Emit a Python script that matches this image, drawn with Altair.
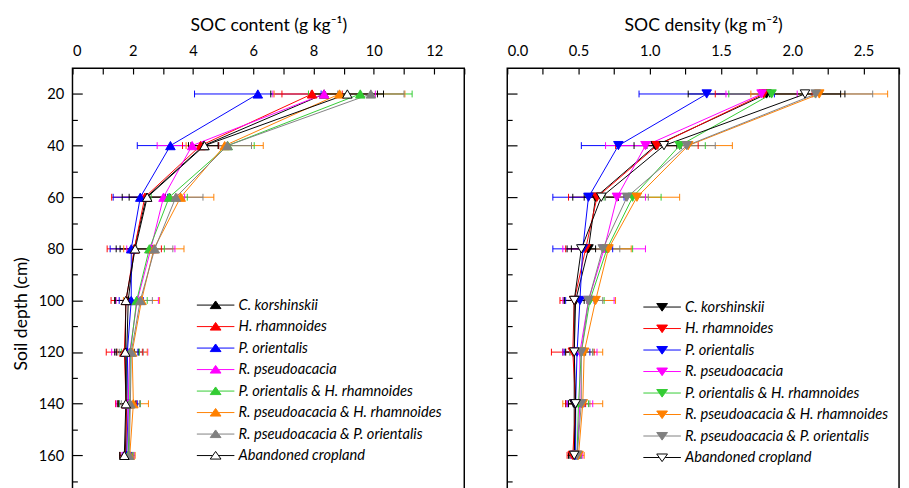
import altair as alt
import pandas as pd

# ---------------- data ----------------
depths = [20, 40, 60, 80, 100, 120, 140, 160]

series = [
    "C. korshinskii",
    "H. rhamnoides",
    "P. orientalis",
    "R. pseudoacacia",
    "P. orientalis & H. rhamnoides",
    "R. pseudoacacia & H. rhamnoides",
    "R. pseudoacacia & P. orientalis",
    "Abandoned cropland",
]
line_colors = ["#000000", "#FF0000", "#0000FF", "#FF00FF", "#33CC33", "#FF8000", "#808080", "#000000"]
fill_colors = ["#000000", "#FF0000", "#0000FF", "#FF00FF", "#33CC33", "#FF8000", "#808080", "#FFFFFF"]

# SOC content (g kg-1): mean and SD per series, by depth
content_mean = [
    [8.35, 4.35, 2.45, 2.05, 1.85, 1.80, 1.80, 1.75],
    [7.95, 4.25, 2.40, 2.05, 1.78, 1.72, 1.78, 1.78],
    [6.15, 3.25, 2.25, 1.95, 1.95, 1.82, 1.85, 1.80],
    [8.35, 3.97, 3.02, 2.60, 2.15, 1.90, 1.85, 1.85],
    [9.55, 5.15, 3.21, 2.55, 2.13, 1.92, 1.90, 1.85],
    [8.86, 5.05, 3.59, 2.70, 2.29, 1.98, 2.02, 1.90],
    [9.90, 5.14, 3.43, 2.73, 2.25, 1.95, 1.92, 1.88],
    [9.12, 4.38, 2.48, 2.08, 1.77, 1.75, 1.77, 1.72],
]
content_sd = [
    [1.77, 0.50, 0.80, 0.60, 0.45, 0.40, 0.30, 0.18],
    [1.00, 0.60, 1.10, 0.90, 0.50, 0.60, 0.35, 0.20],
    [2.10, 1.10, 0.90, 0.70, 0.40, 0.35, 0.30, 0.15],
    [1.70, 1.16, 0.70, 0.80, 0.70, 0.60, 0.40, 0.20],
    [1.72, 0.88, 0.60, 0.50, 0.35, 0.30, 0.35, 0.15],
    [2.17, 1.28, 1.10, 1.00, 0.60, 0.50, 0.50, 0.18],
    [1.10, 0.80, 0.90, 0.60, 0.40, 0.40, 0.30, 0.15],
    [1.20, 0.45, 0.60, 0.50, 0.35, 0.30, 0.25, 0.15],
]

# SOC density (kg m-2): mean and SD per series, by depth
density_mean = [
    [1.82, 1.04, 0.62, 0.57, 0.48, 0.47, 0.47, 0.47],
    [1.80, 1.05, 0.63, 0.55, 0.47, 0.46, 0.48, 0.46],
    [1.40, 0.78, 0.57, 0.53, 0.51, 0.49, 0.48, 0.48],
    [1.785, 0.97, 0.77, 0.68, 0.57, 0.51, 0.51, 0.49],
    [1.855, 1.21, 0.88, 0.70, 0.58, 0.52, 0.50, 0.49],
    [2.19, 1.27, 0.91, 0.71, 0.62, 0.54, 0.53, 0.50],
    [2.165, 1.26, 0.84, 0.67, 0.57, 0.52, 0.52, 0.49],
    [2.09, 1.10, 0.66, 0.52, 0.47, 0.47, 0.48, 0.47],
]
density_sd = [
    [0.55, 0.15, 0.16, 0.12, 0.08, 0.08, 0.06, 0.04],
    [0.34, 0.29, 0.20, 0.14, 0.10, 0.15, 0.07, 0.04],
    [0.475, 0.26, 0.25, 0.21, 0.10, 0.09, 0.06, 0.03],
    [0.25, 0.28, 0.20, 0.29, 0.18, 0.12, 0.09, 0.04],
    [0.30, 0.18, 0.20, 0.18, 0.10, 0.08, 0.07, 0.03],
    [0.48, 0.31, 0.30, 0.16, 0.14, 0.13, 0.14, 0.04],
    [0.40, 0.20, 0.15, 0.12, 0.10, 0.08, 0.06, 0.03],
    [0.25, 0.12, 0.12, 0.10, 0.07, 0.06, 0.05, 0.03],
]

content_ticks = list(range(0, 14))
content_labels = [0, 2, 4, 6, 8, 10, 12]
density_ticks = [i * 0.25 for i in range(0, 12)]
density_labels = [0.0, 0.5, 1.0, 1.5, 2.0, 2.5]
y_tick_vals = list(range(20, 201, 10))
y_label_vals = list(range(20, 161, 20))


def make_df(means, sds):
    rows = []
    for s, ms, es in zip(series, means, sds):
        for d, m, e in zip(depths, ms, es):
            rows.append({"series": s, "depth": d, "mean": m, "lo": m - e, "hi": m + e})
    return pd.DataFrame(rows)


W, H = 401, 502
FONT = "Lato"

LEG_UP = "M-3.2,0H-0.54M0.54,0H3.2M0,-0.7L0.92,0.6L-0.92,0.6Z"
LEG_DOWN = "M-3.2,0H-0.54M0.54,0H3.2M0,0.7L0.92,-0.6L-0.92,-0.6Z"
CAP = "M0,-1V1"


def panel(df, title, xmax, tick_vals, label_vals, fmt, tri, leg_path, lx, ly, show_y):
    x_scale = alt.Scale(domain=[0, xmax], nice=False, zero=False)
    y_scale = alt.Scale(domain=[10, 200], reverse=True, nice=False, zero=False)
    stroke_scale = alt.Scale(domain=series, range=line_colors)
    fill_scale = alt.Scale(domain=series, range=fill_colors)
    leg = alt.Legend(
        title=None, orient="none", legendX=lx, legendY=ly, direction="vertical",
        symbolType=leg_path, symbolSize=144, symbolStrokeWidth=1,
        labelFont=FONT, labelFontStyle="italic", labelFontSize=15, labelColor="black",
        labelOffset=16, rowPadding=6, padding=0, labelLimit=400,
    )
    x_lab = alt.Axis(orient="top", values=label_vals, format=fmt, title=title, ticks=False,
                     domain=False, grid=False, labelPadding=10, titlePadding=10)
    x_tick = alt.Axis(orient="bottom", offset=-H, values=tick_vals, labels=False, ticks=True,
                      tickSize=6, domain=False, grid=False, title=None)
    if show_y:
        y_lab = alt.Axis(orient="left", values=y_label_vals, title="Soil depth (cm)", ticks=False,
                         domain=False, grid=False, labelPadding=9, titlePadding=8)
    else:
        y_lab = None
    y_tick = alt.Axis(orient="right", offset=-W, values=y_tick_vals, labels=False, ticks=True,
                      tickSize={"condition": {"test": "datum.value % 20 === 0", "value": 10}, "value": 5},
                      domain=False, grid=False, title=None)

    base = alt.Chart(df)
    stroke_enc = alt.Stroke("series:N", scale=stroke_scale, legend=leg)

    rules = base.mark_rule(strokeWidth=1).encode(
        x=alt.X("lo:Q", scale=x_scale, axis=x_lab),
        x2="hi:Q",
        y=alt.Y("depth:Q", scale=y_scale, axis=y_lab),
        stroke=stroke_enc,
    )
    cap_lo = base.mark_point(shape=CAP, size=49, strokeWidth=1, opacity=1, filled=False).encode(
        x=alt.X("lo:Q", axis=None), y=alt.Y("depth:Q", axis=None), stroke=stroke_enc
    )
    cap_hi = base.mark_point(shape=CAP, size=49, strokeWidth=1, opacity=1, filled=False).encode(
        x=alt.X("hi:Q", axis=None), y=alt.Y("depth:Q", axis=None), stroke=stroke_enc
    )
    lines = base.mark_line(strokeWidth=1).encode(
        x=alt.X("mean:Q", axis=x_tick),
        y=alt.Y("depth:Q", axis=y_tick),
        stroke=stroke_enc,
        order="depth:Q",
    )
    points = base.mark_point(shape=tri, filled=True, size=95, strokeWidth=1, opacity=1).encode(
        x=alt.X("mean:Q", axis=None),
        y=alt.Y("depth:Q", axis=None),
        fill=alt.Fill("series:N", scale=fill_scale, legend=leg),
        stroke=stroke_enc,
    )
    return (
        alt.layer(rules, cap_lo, cap_hi, lines, points)
        .resolve_axis(x="independent", y="independent")
        .properties(width=W, height=H)
    )


left = panel(make_df(content_mean, content_sd), "SOC content (g kg⁻¹)", 13,
             content_ticks, content_labels, "d", "triangle-up", LEG_UP, 139, 235, True)
right = panel(make_df(density_mean, density_sd), "SOC density (kg m⁻²)", 2.75,
              density_ticks, density_labels, ".1f", "triangle-down", LEG_DOWN, 151, 237, False)

chart = (
    alt.hconcat(left, right, spacing=40)
    .resolve_scale(stroke="independent", fill="independent")
    .properties(padding={"left": 4, "top": 1, "right": 0, "bottom": 0})
    .configure_view(stroke="black", strokeWidth=1.5)
    .configure_axis(
        labelFont=FONT, labelFontSize=15, labelColor="black",
        titleFont=FONT, titleFontSize=18, titleFontWeight="normal", titleColor="black",
        tickColor="black", tickWidth=1.2,
    )
)

chart.save("out.html", embed_options={"renderer": "svg", "actions": False})
